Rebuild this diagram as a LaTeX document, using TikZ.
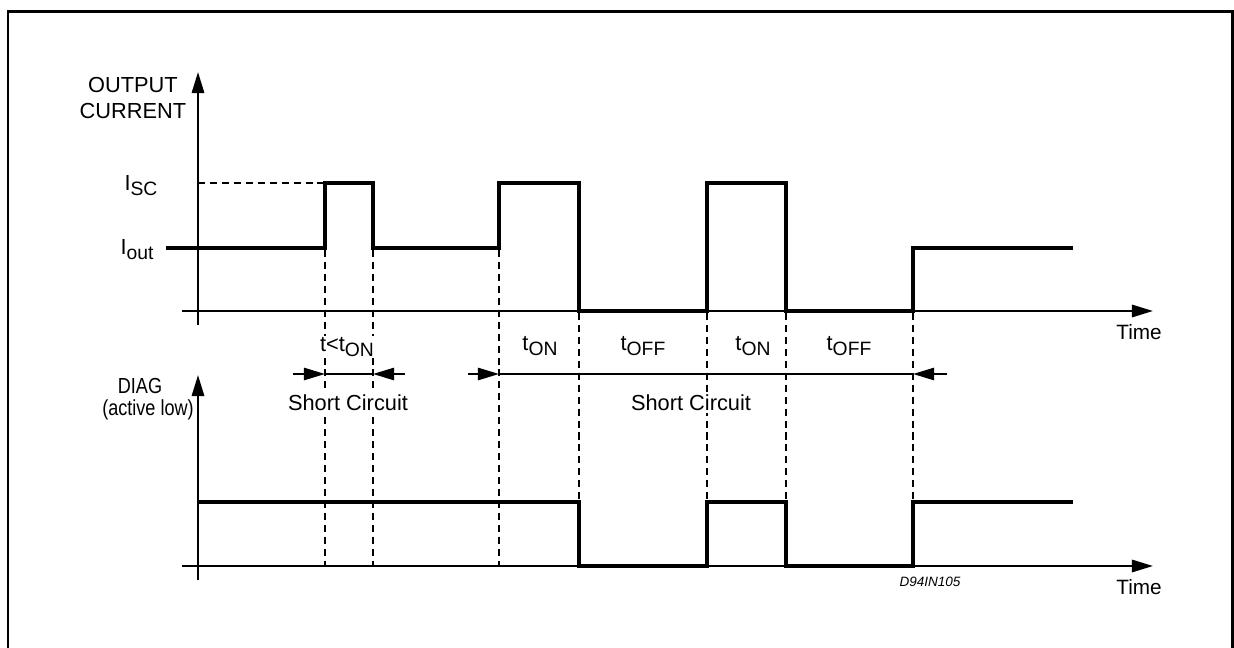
\documentclass[tikz,border=0pt]{standalone}
\usepackage{fontspec}
\setmainfont{Liberation Sans}
\usetikzlibrary{arrows.meta}

% lowered index, as in t_ON
\newcommand{\lowidx}[1]{\raisebox{-0.45ex}{\fontsize{11}{11}\selectfont #1}}
% narrow text, as in the DIAG label
\newcommand{\narrowtxt}[1]{\scalebox{0.83}[1]{#1}}

\begin{document}
\begin{tikzpicture}[x=0.02cm, y=-0.02cm,
  lbl/.style={font=\fontsize{12.4}{15}\selectfont, inner sep=0pt},
  gap lbl/.style={lbl, fill=white, inner sep=1pt},
  axis/.style={line width=1.3pt, -{Triangle[length=12pt, width=7pt]}},
  wave/.style={line width=2.8pt},
  guide/.style={line width=1.1pt, dash pattern=on 4pt off 2.8pt},
  dimline/.style={line width=1pt},
  dimtip/.style={line width=1pt, -{Triangle[length=12pt, width=7pt]}}]

\useasboundingbox (0,0) rectangle (1234,648);

% Frame
\draw[line width=1.7pt] (8,660) -- (8,11.5) -- (1232,11.5) -- (1232,660);

% Axes
\coordinate (curfoot) at (198,325);
\coordinate (curtip)  at (198,72);
\coordinate (curleft) at (182,311);
\coordinate (curend)  at (1153,311);
\coordinate (diagfoot) at (198,580);
\coordinate (diagtip)  at (198,375);
\coordinate (diagleft) at (182,566);
\coordinate (diagend)  at (1153,566);
\draw[axis] (curfoot) -- (curtip);
\draw[axis] (curleft) -- (curend);
\draw[axis] (diagfoot) -- (diagtip);
\draw[axis] (diagleft) -- (diagend);

% Axis labels
\node[lbl] (outlbl) at (133,85) {OUTPUT};
\node[lbl] (curlbl) at (133,111) {CURRENT};
\node[lbl] (isc) at (141,186) {I\lowidx{SC}};
\node[lbl] (iout) at (137,250) {I\lowidx{out}};
\node[lbl] (diaglbl) at (140,386) {\narrowtxt{DIAG}};
\node[lbl] (actlbl) at (148,410) {\narrowtxt{(active low)}};
\node[lbl, font=\fontsize{11.8}{14}\selectfont] (time1) at (1139,332) {Time};
\node[lbl, font=\fontsize{11.8}{14}\selectfont] (time2) at (1139,587) {Time};

% Output current
\draw[guide] (198,183) -- (325,183);
\draw[wave] plot coordinates {
  (166,248) (325,248) (325,183) (373,183) (373,248) (499,248) (499,183)
  (579,183) (579,311) (707,311) (707,183) (786,183) (786,311) (913,311)
  (913,248) (1073,248)
};

% DIAG (active low)
\draw[wave] plot coordinates {
  (198,502) (579,502) (579,566) (707,566) (707,502) (786,502) (786,566)
  (913,566) (913,502) (1073,502)
};

% Timing guides
\foreach \x in {325,373,499} {
  \draw[guide] (\x,250) -- (\x,566);
}
\foreach \x in {579,707,786,913} {
  \draw[guide] (\x,313) -- (\x,502);
}

% Interval labels
\node[gap lbl] (tlt) at (347,347) {t<t\lowidx{ON}};
\node[lbl] (ton1) at (540,346) {t\lowidx{ON}};
\node[lbl] (toff1) at (643,346) {t\lowidx{OFF}};
\node[lbl] (ton2) at (753,346) {t\lowidx{ON}};
\node[lbl] (toff2) at (849,346) {t\lowidx{OFF}};

% Short circuit spans
\coordinate (sca) at (293,374);
\coordinate (scb) at (325,374);
\coordinate (scc) at (373,374);
\coordinate (scd) at (405,374);
\draw[dimtip] (sca) -- (scb);
\draw[dimline] (scb) -- (scc);
\draw[dimtip] (scd) -- (scc);
\node[gap lbl] (sc1) at (348,403) {Short Circuit};

\coordinate (lsa) at (468,374);
\coordinate (lsb) at (499,374);
\coordinate (lsc) at (913,374);
\coordinate (lsd) at (947,374);
\draw[dimtip] (lsa) -- (lsb);
\draw[dimline] (lsb) -- (lsc);
\draw[dimtip] (lsd) -- (lsc);
\node[gap lbl] (sc2) at (691,403) {Short Circuit};

% Drawing code
\node[font=\fontsize{7.7}{9}\selectfont\itshape, inner sep=0pt] (code) at (930,582) {D94IN105};

\end{tikzpicture}
\end{document}
